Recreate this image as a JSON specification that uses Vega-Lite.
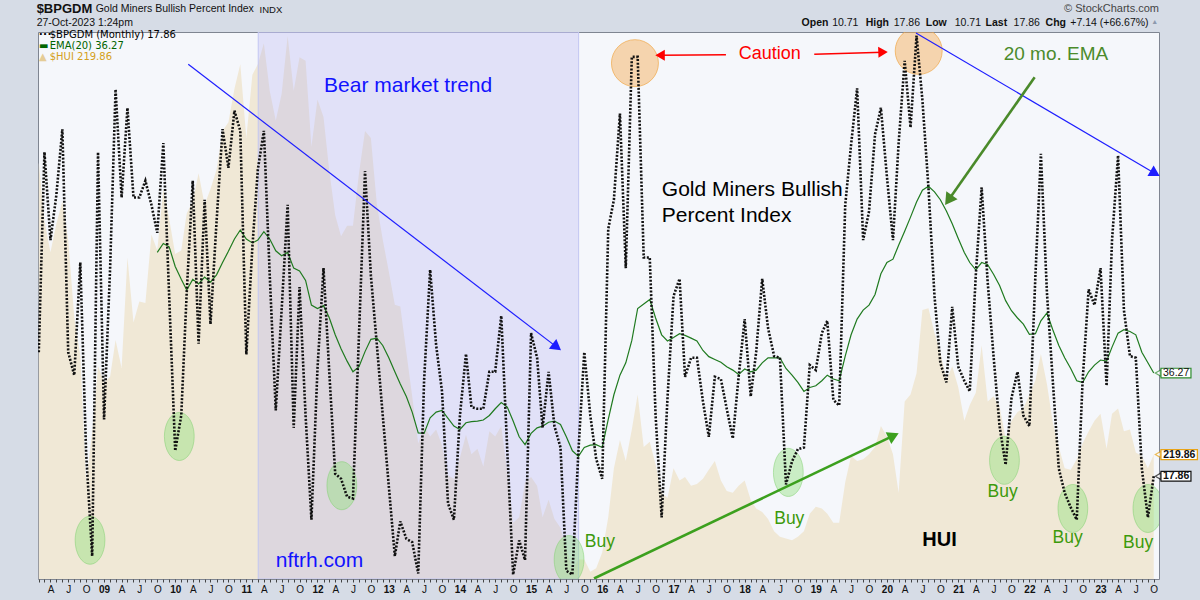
{
"$schema": "https://vega.github.io/schema/vega-lite/v6.json",
"width": 1121, "height": 547,
"autosize": {"type": "none"},
"padding": {"left": 38, "top": 32, "right": 41, "bottom": 21},
"background": "#d6dce6",
"config": {
  "font": "Liberation Sans",
  "view": {"fill": "#f5f7fb", "stroke": "#7f8591", "strokeWidth": 1},
  "axis": {"grid": false, "domain": false, "labelFont": "Liberation Sans", "labelFontSize": 10.5, "labelColor": "#111", "tickColor": "#444", "title": null}
},
"datasets": {
"m": [
{"d":"2008-02-01","b":40.0,"h":483.8},{"d":"2008-03-01","b":75.7,"h":431.4},{"d":"2008-04-01","b":60.0,"h":402.8},{"d":"2008-05-01","b":68,"h":428.2},{"d":"2008-06-01","b":79.8,"h":448.8},{"d":"2008-07-01","b":40.0,"h":413.9},{"d":"2008-08-01","b":35.9,"h":344.0},{"d":"2008-09-01","b":56.0,"h":309.1},{"d":"2008-10-01","b":22,"h":195},{"d":"2008-11-01","b":3.6,"h":240},{"d":"2008-12-01","b":75.7,"h":299.6},
{"d":"2009-01-01","b":28.0,"h":285.3},{"d":"2009-02-01","b":55,"h":290.1},{"d":"2009-03-01","b":86.9,"h":323.4},{"d":"2009-04-01","b":67.6,"h":298.0},{"d":"2009-05-01","b":83.6,"h":398.0},{"d":"2009-06-01","b":67.6,"h":339.3},{"d":"2009-07-01","b":67.6,"h":358.3},{"d":"2009-08-01","b":70.6,"h":356.8},{"d":"2009-09-01","b":66.3,"h":418.7},{"d":"2009-10-01","b":61.3,"h":404.4,"e":57.8},{"d":"2009-11-01","b":77.3,"h":459.9,"e":59.4},{"d":"2009-12-01","b":50,"h":432.9,"e":58.8},
{"d":"2010-01-01","b":22.4,"h":401.2,"e":55.3},{"d":"2010-02-01","b":28.7,"h":404.4,"e":53.0},{"d":"2010-03-01","b":50.6,"h":437.7,"e":51.1},{"d":"2010-04-01","b":70.6,"h":448.8,"e":53.0},{"d":"2010-05-01","b":41.5,"h":474.2,"e":52.2},{"d":"2010-06-01","b":67.2,"h":445.7,"e":53.4},{"d":"2010-07-01","b":45.0,"h":459.9,"e":52.5},{"d":"2010-08-01","b":63.2,"h":477.4,"e":53.8},{"d":"2010-09-01","b":79.8,"h":512.3,"e":56.0},{"d":"2010-10-01","b":72.9,"h":520.3,"e":58.0},{"d":"2010-11-01","b":83.1,"h":550.4,"e":60.2},{"d":"2010-12-01","b":79.5,"h":572.7,"e":61.8},
{"d":"2011-01-01","b":39.6,"h":506.0,"e":60.2},{"d":"2011-02-01","b":58.8,"h":563.1,"e":59.5},{"d":"2011-03-01","b":72.6,"h":572.7,"e":60.0},{"d":"2011-04-01","b":79.5,"h":591.7,"e":61.5},{"d":"2011-05-01","b":53.8,"h":548.8,"e":60.2},{"d":"2011-06-01","b":29.6,"h":521.9,"e":58.1},{"d":"2011-07-01","b":47.5,"h":545.7,"e":57.2},{"d":"2011-08-01","b":66.3,"h":598.1,"e":57.8},{"d":"2011-09-01","b":26.5,"h":548.8,"e":55.0},{"d":"2011-10-01","b":51.6,"h":579.0,"e":54.5},{"d":"2011-11-01","b":28.7,"h":575.8,"e":52.8},{"d":"2011-12-01","b":10.1,"h":498.0,"e":48.4},
{"d":"2012-01-01","b":37,"h":540.9,"e":47.8},{"d":"2012-02-01","b":55.0,"h":525,"e":48.3},{"d":"2012-03-01","b":36.8,"h":477.4,"e":46.2},{"d":"2012-04-01","b":18.3,"h":436.1,"e":43.1},{"d":"2012-05-01","b":17.4,"h":417.1,"e":40.6},{"d":"2012-06-01","b":14.2,"h":426.6,"e":38.4},{"d":"2012-07-01","b":13.9,"h":426.6,"e":36.5},{"d":"2012-08-01","b":43.1,"h":474.2,"e":37.4},{"d":"2012-09-01","b":72.3,"h":512.3,"e":40.1},{"d":"2012-10-01","b":53.7,"h":506.0,"e":42.3},{"d":"2012-11-01","b":41.2,"h":445.7,"e":42.5},{"d":"2012-12-01","b":28.7,"h":413.9,"e":41.2},
{"d":"2013-01-01","b":16.1,"h":385.3,"e":39.0},{"d":"2013-02-01","b":3.6,"h":355.2,"e":36.5},{"d":"2013-03-01","b":9.8,"h":353.6,"e":34.3},{"d":"2013-04-01","b":6.7,"h":312.3,"e":32.1},{"d":"2013-05-01","b":6.1,"h":272.6,"e":29.3},{"d":"2013-06-01","b":0.5,"h":229.8,"e":25.6},{"d":"2013-07-01","b":34.9,"h":245.6,"e":25.5},{"d":"2013-08-01","b":54.7,"h":236.1,"e":28.3},{"d":"2013-09-01","b":41.2,"h":242.4,"e":29.3},{"d":"2013-10-01","b":33.0,"h":228.2,"e":29.6},{"d":"2013-11-01","b":13.0,"h":201.2,"e":28.2},{"d":"2013-12-01","b":10.1,"h":198.0,"e":26.8},
{"d":"2014-01-01","b":28.7,"h":217.1,"e":26.2},{"d":"2014-02-01","b":39.7,"h":237.7,"e":27.4},{"d":"2014-03-01","b":30.2,"h":220.2,"e":27.6},{"d":"2014-04-01","b":29.9,"h":225.0,"e":27.7},{"d":"2014-05-01","b":29.9,"h":209.1,"e":27.9},{"d":"2014-06-01","b":36.5,"h":240.9,"e":28.7},{"d":"2014-07-01","b":36.5,"h":236.1,"e":29.9},{"d":"2014-08-01","b":46.5,"h":245.6,"e":31.0},{"d":"2014-09-01","b":22.4,"h":204.4,"e":30.2},{"d":"2014-10-01","b":0.3,"h":158.3,"e":27.7},{"d":"2014-11-01","b":6.4,"h":163.1,"e":24.9},{"d":"2014-12-01","b":2.9,"h":194.8,"e":23.5},
{"d":"2015-01-01","b":43.4,"h":199.6,"e":25.5},{"d":"2015-02-01","b":39.0,"h":191.7,"e":26.5},{"d":"2015-03-01","b":26.5,"h":163.1,"e":26.8},{"d":"2015-04-01","b":36.5,"h":179.0,"e":27.5},{"d":"2015-05-01","b":26.8,"h":161.5,"e":27.7},{"d":"2015-06-01","b":23.0,"h":153.6,"e":27.1},{"d":"2015-07-01","b":1.0,"h":134.5,"e":24.9},{"d":"2015-08-01","b":0.3,"h":115.5,"e":22.4},{"d":"2015-09-01","b":22.4,"h":125.0,"e":21.4},{"d":"2015-10-01","b":40.0,"h":125.0,"e":23.0},{"d":"2015-11-01","b":28.7,"h":113.9,"e":23.4},{"d":"2015-12-01","b":21,"h":117.1,"e":23.5},
{"d":"2016-01-01","b":17.4,"h":131.3,"e":23.0},{"d":"2016-02-01","b":62,"h":163.1,"e":28.0},{"d":"2016-03-01","b":67.2,"h":207.5,"e":32.4},{"d":"2016-04-01","b":82.6,"h":233.0,"e":35.9},{"d":"2016-05-01","b":55.0,"h":213.9,"e":38.1},{"d":"2016-06-01","b":92.7,"h":242.4,"e":42.1},{"d":"2016-07-01","b":92.7,"h":274.2,"e":47.8},{"d":"2016-08-01","b":56.9,"h":226.6,"e":48.6},{"d":"2016-09-01","b":56.9,"h":231.3,"e":49.4},{"d":"2016-10-01","b":28.7,"h":210.7,"e":46.1},{"d":"2016-11-01","b":10.5,"h":185.3,"e":43.1},{"d":"2016-12-01","b":31.8,"h":180.5,"e":42.0},
{"d":"2017-01-01","b":50.0,"h":207.5,"e":42.6},{"d":"2017-02-01","b":53.1,"h":196.4,"e":43.3},{"d":"2017-03-01","b":35.6,"h":199.6,"e":43.0},{"d":"2017-04-01","b":39.0,"h":191.7,"e":42.5},{"d":"2017-05-01","b":39.0,"h":193.3,"e":42.0},{"d":"2017-06-01","b":31.2,"h":198.0,"e":40.3},{"d":"2017-07-01","b":24.9,"h":206.0,"e":39.2},{"d":"2017-08-01","b":35.6,"h":213.9,"e":38.7},{"d":"2017-09-01","b":35.2,"h":196.4,"e":38.2},{"d":"2017-10-01","b":29.9,"h":186.9,"e":37.4},{"d":"2017-11-01","b":24.6,"h":185.3,"e":36.8},{"d":"2017-12-01","b":35.6,"h":191.7,"e":36.0},
{"d":"2018-01-01","b":45.9,"h":196.4,"e":37.0},{"d":"2018-02-01","b":32.1,"h":179.0,"e":36.5},{"d":"2018-03-01","b":40.0,"h":171.0,"e":36.8},{"d":"2018-04-01","b":53.1,"h":167.8,"e":38.1},{"d":"2018-05-01","b":44.3,"h":161.5,"e":39.0},{"d":"2018-06-01","b":39.3,"h":150.4,"e":39.0},{"d":"2018-07-01","b":39.0,"h":145.6,"e":39.0},{"d":"2018-08-01","b":16.4,"h":144.0,"e":37.1},{"d":"2018-09-01","b":20.5,"h":142.4,"e":35.9},{"d":"2018-10-01","b":22.7,"h":145.6,"e":34.6},{"d":"2018-11-01","b":23.0,"h":150.4,"e":33.0},{"d":"2018-12-01","b":37.7,"h":166.3,"e":33.7},
{"d":"2019-01-01","b":36.8,"h":172.6,"e":34.0},{"d":"2019-02-01","b":43.4,"h":171.0,"e":34.9},{"d":"2019-03-01","b":45.6,"h":166.3,"e":35.9},{"d":"2019-04-01","b":31.5,"h":158.3,"e":35.2},{"d":"2019-05-01","b":30.5,"h":158.3,"e":34.9},{"d":"2019-06-01","b":66.3,"h":194.8,"e":39.3},{"d":"2019-07-01","b":77.0,"h":218.6,"e":43.1},{"d":"2019-08-01","b":87.1,"h":213.9,"e":45.9},{"d":"2019-09-01","b":60.0,"h":215.5,"e":47.5},{"d":"2019-10-01","b":65.1,"h":220.2,"e":48.4},{"d":"2019-11-01","b":78.9,"h":226.6,"e":50.3},{"d":"2019-12-01","b":83.6,"h":245.6,"e":54.0},
{"d":"2020-01-01","b":71.3,"h":236.1,"e":56.0},{"d":"2020-02-01","b":60.0,"h":220.2,"e":56.6},{"d":"2020-03-01","b":77.3,"h":185.3,"e":59.1},{"d":"2020-04-01","b":92.0,"h":267.9,"e":61.6},{"d":"2020-05-01","b":80.1,"h":274.2,"e":64.1},{"d":"2020-06-01","b":96.5,"h":293.3,"e":66.8},{"d":"2020-07-01","b":85,"h":350.4,"e":68.9},{"d":"2020-08-01","b":69.4,"h":352.0,"e":69.6},{"d":"2020-09-01","b":50.0,"h":329.8,"e":68.6},{"d":"2020-10-01","b":38.1,"h":312.3,"e":67.2},{"d":"2020-11-01","b":34.6,"h":286.9,"e":65.2},{"d":"2020-12-01","b":48.1,"h":299.6,"e":62.9},
{"d":"2021-01-01","b":37.4,"h":280.6,"e":60.3},{"d":"2021-02-01","b":34.9,"h":250.4,"e":57.8},{"d":"2021-03-01","b":33.0,"h":264.7,"e":56.0},{"d":"2021-04-01","b":53.8,"h":275.8,"e":54.7},{"d":"2021-05-01","b":69.4,"h":318.6,"e":56.0},{"d":"2021-06-01","b":52.5,"h":267.9,"e":55.6},{"d":"2021-07-01","b":39.3,"h":272.6,"e":53.9},{"d":"2021-08-01","b":26.8,"h":263.1,"e":51.9},{"d":"2021-09-01","b":19.9,"h":234.5,"e":49.2},{"d":"2021-10-01","b":31.8,"h":250.4,"e":47.4},{"d":"2021-11-01","b":36.5,"h":258.3,"e":46.1},{"d":"2021-12-01","b":28.7,"h":261.5,"e":45.0},
{"d":"2022-01-01","b":26.8,"h":274.2,"e":43.2},{"d":"2022-02-01","b":53.8,"h":286.9,"e":43.3},{"d":"2022-03-01","b":75.4,"h":310.7,"e":45.6},{"d":"2022-04-01","b":50.6,"h":283.7,"e":47.0},{"d":"2022-05-01","b":34.9,"h":248.8,"e":44.0},{"d":"2022-06-01","b":19.2,"h":226.6,"e":41.2},{"d":"2022-07-01","b":14.9,"h":207.5,"e":39.0},{"d":"2022-08-01","b":12.3,"h":206.0,"e":37.1},{"d":"2022-09-01","b":10.1,"h":215.5,"e":34.9},{"d":"2022-10-01","b":34.9,"h":229.8,"e":34.6},{"d":"2022-11-01","b":51.2,"h":240.9,"e":36.5},{"d":"2022-12-01","b":48.4,"h":250.4,"e":37.7},
{"d":"2023-01-01","b":55.0,"h":256.7,"e":38.6},{"d":"2023-02-01","b":34.0,"h":225.0,"e":38.4},{"d":"2023-03-01","b":60.0,"h":256.7,"e":40.9},{"d":"2023-04-01","b":75.1,"h":261.5,"e":43.4},{"d":"2023-05-01","b":47.5,"h":240.9,"e":44.0},{"d":"2023-06-01","b":39.3,"h":242.4,"e":43.7},{"d":"2023-07-01","b":39.0,"h":221.8,"e":43.1},{"d":"2023-08-01","b":19.2,"h":218.6,"e":40.0},{"d":"2023-09-01","b":10.5,"h":207.5,"e":38.1},{"d":"2023-10-01","b":17.86,"h":219.86,"e":36.27}
]
},
"encoding": {
  "x": {"field": "d", "type": "temporal",
    "scale": {"type": "utc", "nice": false, "domain": [{"year": 2008, "month": 1, "date": 28, "utc": true}, {"year": 2023, "month": 10, "date": 28, "utc": true}]},
    "axis": {"orient": "bottom", "tickCount": {"interval": "month", "step": 1}, "tickSize": 3, "labelPadding": 2, "labelOverlap": false, "labelFlush": false, "labelBound": false, "labelFontSize": 10,
      "labelExpr": "utcmonth(datum.value)==0 ? utcFormat(datum.value,'%y') : utcmonth(datum.value)==3 ? 'A' : utcmonth(datum.value)==6 ? 'J' : utcmonth(datum.value)==9 ? 'O' : ''",
      "labelFontWeight": {"condition": {"test": "utcmonth(datum.value)==0", "value": "bold"}, "value": "normal"}}}
},
"layer": [
  {"data": {"name": "m"},
   "layer": [
    {"mark": {"type": "area", "color": "#f0e8d6", "clip": true},
     "encoding": {"y": {"field": "h", "type": "quantitative", "scale": {"domain": [107.34, 601.81], "nice": false, "zero": false},
       "axis": {"orient": "left", "values": [120,140,160,180,200,220,240,260,280,300,320,340,360,380,400,420,440,460,480,500,520,540,560,580,600], "tickSize": 4, "labelPadding": 1}}}},
    {"data": {"values": [{"d": "2023-10-24", "v": 219.86}]},
     "mark": {"type": "point", "shape": "triangle-left", "size": 45, "filled": true, "fill": "white", "stroke": "#e8a317", "strokeWidth": 1.2, "clip": false},
     "encoding": {"y": {"field": "v", "type": "quantitative", "scale": {"domain": [107.34, 601.81], "nice": false, "zero": false}, "axis": null}}},
    {"data": {"values": [{"d": "2023-11-07", "d2": "2024-05-12", "v": 215.34, "v2": 224.38}]},
     "mark": {"type": "rect", "fill": "white", "stroke": "#e8a317", "strokeWidth": 1.3, "clip": false},
     "encoding": {"x2": {"field": "d2"}, "y": {"field": "v", "type": "quantitative", "scale": {"domain": [107.34, 601.81], "nice": false, "zero": false}, "axis": null}, "y2": {"field": "v2"}}},
    {"data": {"values": [{"d": "2024-02-09", "v": 219.86, "t": "219.86"}]},
     "mark": {"type": "text", "fontSize": 10.5, "fontWeight": "bold", "color": "#111", "align": "center", "baseline": "middle", "clip": false},
     "encoding": {"y": {"field": "v", "type": "quantitative", "scale": {"domain": [107.34, 601.81], "nice": false, "zero": false}, "axis": null}, "text": {"field": "t"}}}
   ]},
  {"layer": [
    {"data": {"values": [{"d": "2011-03-03", "d2": "2015-09-02"}]},
     "mark": {"type": "rect", "fill": "#b2aef1", "fillOpacity": 0.3, "stroke": "#c3c6f2", "strokeWidth": 1, "clip": true},
     "encoding": {"x2": {"field": "d2"}}},
    {"data": {"values": [{"d": "2008-10-21", "v": 6.43}, {"d": "2010-01-22", "v": 24.95}, {"d": "2012-05-05", "v": 16.17}, {"d": "2015-07-15", "v": 2.98}, {"d": "2018-08-13", "v": 18.54}, {"d": "2021-08-26", "v": 20.7}, {"d": "2022-08-12", "v": 12.1}, {"d": "2023-09-01", "v": 12.1}]},
     "mark": {"type": "point", "shape": "M0,-1A0.62,1 0 1,1 0,1A0.62,1 0 1,1 0,-1Z", "size": 2304, "filled": true, "fill": "#8ee07a", "fillOpacity": 0.42, "stroke": "#7fd06f", "strokeOpacity": 0.5, "strokeWidth": 1, "clip": true},
     "encoding": {"y": {"field": "v", "type": "quantitative", "scale": {"domain": [-0.48, 97.14], "nice": false, "zero": false}, "axis": null}}},
    {"data": {"values": [{"d": "2016-06-17", "v": 91.58}, {"d": "2020-06-12", "v": 93.77}]},
     "mark": {"type": "point", "shape": "circle", "size": 2206, "filled": true, "fill": "#f7a850", "fillOpacity": 0.45, "stroke": "#f0a848", "strokeOpacity": 0.7, "strokeWidth": 1, "clip": true},
     "encoding": {"y": {"field": "v", "type": "quantitative", "scale": {"domain": [-0.48, 97.14], "nice": false, "zero": false}, "axis": null}}},
    {"data": {"name": "m"},
     "mark": {"type": "line", "color": "#1f7a1f", "strokeWidth": 1.2, "clip": true},
     "encoding": {"y": {"field": "e", "type": "quantitative", "scale": {"domain": [-0.48, 97.14], "nice": false, "zero": false}, "axis": null}}},
    {"data": {"name": "m"},
     "mark": {"type": "line", "color": "#111111", "strokeWidth": 2.6, "strokeDash": [2, 1.6], "clip": true},
     "encoding": {"y": {"field": "b", "type": "quantitative", "scale": {"domain": [-0.48, 97.14], "nice": false, "zero": false},
       "axis": {"orient": "right", "values": [0,2.5,5,7.5,10,12.5,15,17.5,20,22.5,25,27.5,30,32.5,35,37.5,40,42.5,45,47.5,50,52.5,55,57.5,60,62.5,65,67.5,70,72.5,75,77.5,80,82.5,85,87.5,90,92.5,95], "format": ".1f", "tickSize": 4, "labelPadding": 1}}}},
    {"data": {"values": [{"d": "2010-03-09", "v": 91.38, "d2": "2015-05-13", "v2": 40.9}]},
     "layer": [
      {"mark": {"type": "rule", "color": "#1e1eff", "strokeWidth": 1.2, "clip": true},
       "encoding": {"x2": {"field": "d2"}, "y": {"field": "v", "type": "quantitative", "scale": {"domain": [-0.48, 97.14], "nice": false, "zero": false}, "axis": null}, "y2": {"field": "v2"}}},
      {"mark": {"type": "point", "shape": "triangle-right", "angle": 37.5, "size": 150, "filled": true, "color": "#1e1eff", "opacity": 1},
       "encoding": {"x": {"field": "d2", "type": "temporal"}, "y": {"field": "v2", "type": "quantitative", "scale": {"domain": [-0.48, 97.14], "nice": false, "zero": false}, "axis": null}}}
     ]},
    {"data": {"values": [{"d": "2020-05-29", "v": 96.97, "d2": "2023-10-08", "v2": 71.9}]},
     "layer": [
      {"mark": {"type": "rule", "color": "#1e1eff", "strokeWidth": 1.2, "clip": true},
       "encoding": {"x2": {"field": "d2"}, "y": {"field": "v", "type": "quantitative", "scale": {"domain": [-0.48, 97.14], "nice": false, "zero": false}, "axis": null}, "y2": {"field": "v2"}}},
      {"mark": {"type": "point", "shape": "triangle-right", "angle": 30.4, "size": 150, "filled": true, "color": "#1e1eff", "opacity": 1},
       "encoding": {"x": {"field": "d2", "type": "temporal"}, "y": {"field": "v2", "type": "quantitative", "scale": {"domain": [-0.48, 97.14], "nice": false, "zero": false}, "axis": null}}}
     ]},
    {"data": {"values": [{"d": "2017-09-27", "v": 93.1, "d2": "2016-10-24", "v2": 93.0}]},
     "layer": [
      {"mark": {"type": "rule", "color": "#ff0000", "strokeWidth": 1.5, "clip": true},
       "encoding": {"x2": {"field": "d2"}, "y": {"field": "v", "type": "quantitative", "scale": {"domain": [-0.48, 97.14], "nice": false, "zero": false}, "axis": null}, "y2": {"field": "v2"}}},
      {"mark": {"type": "point", "shape": "triangle-left", "size": 120, "filled": true, "color": "#ff0000", "opacity": 1},
       "encoding": {"x": {"field": "d2", "type": "temporal"}, "y": {"field": "v2", "type": "quantitative", "scale": {"domain": [-0.48, 97.14], "nice": false, "zero": false}, "axis": null}}}
     ]},
    {"data": {"values": [{"d": "2018-12-24", "v": 93.15, "d2": "2019-12-12", "v2": 93.54}]},
     "layer": [
      {"mark": {"type": "rule", "color": "#ff0000", "strokeWidth": 1.5, "clip": true},
       "encoding": {"x2": {"field": "d2"}, "y": {"field": "v", "type": "quantitative", "scale": {"domain": [-0.48, 97.14], "nice": false, "zero": false}, "axis": null}, "y2": {"field": "v2"}}},
      {"mark": {"type": "point", "shape": "triangle-right", "angle": -2, "size": 120, "filled": true, "color": "#ff0000", "opacity": 1},
       "encoding": {"x": {"field": "d2", "type": "temporal"}, "y": {"field": "v2", "type": "quantitative", "scale": {"domain": [-0.48, 97.14], "nice": false, "zero": false}, "axis": null}}}
     ]},
    {"data": {"values": [{"d": "2015-11-20", "v": -0.39, "d2": "2020-02-04", "v2": 25.1}]},
     "layer": [
      {"mark": {"type": "rule", "color": "#3ca01e", "strokeWidth": 2.6, "clip": true},
       "encoding": {"x2": {"field": "d2"}, "y": {"field": "v", "type": "quantitative", "scale": {"domain": [-0.48, 97.14], "nice": false, "zero": false}, "axis": null}, "y2": {"field": "v2"}}},
      {"mark": {"type": "point", "shape": "triangle-right", "angle": -25.5, "size": 170, "filled": true, "color": "#3ca01e", "opacity": 1},
       "encoding": {"x": {"field": "d2", "type": "temporal"}, "y": {"field": "v2", "type": "quantitative", "scale": {"domain": [-0.48, 97.14], "nice": false, "zero": false}, "axis": null}}}
     ]},
    {"data": {"values": [{"d": "2022-01-28", "v": 89.06, "d2": "2020-11-12", "v2": 67.14}]},
     "layer": [
      {"mark": {"type": "rule", "color": "#4a8a2a", "strokeWidth": 2.6, "clip": true},
       "encoding": {"x2": {"field": "d2"}, "y": {"field": "v", "type": "quantitative", "scale": {"domain": [-0.48, 97.14], "nice": false, "zero": false}, "axis": null}, "y2": {"field": "v2"}}},
      {"mark": {"type": "point", "shape": "triangle-right", "angle": 125, "size": 190, "filled": true, "color": "#4a8a2a", "opacity": 1},
       "encoding": {"x": {"field": "d2", "type": "temporal"}, "y": {"field": "v2", "type": "quantitative", "scale": {"domain": [-0.48, 97.14], "nice": false, "zero": false}, "axis": null}}}
     ]},
    {"data": {"values": [{"d": "2012-02-04", "v": 87.5, "t": "Bear market trend"}, {"d": "2011-06-01", "v": 2.68, "t": "nftrh.com"}]},
     "mark": {"type": "text", "align": "left", "baseline": "middle", "fontSize": 21, "color": "#1212ff", "clip": false},
     "encoding": {"y": {"field": "v", "type": "quantitative", "scale": {"domain": [-0.48, 97.14], "nice": false, "zero": false}, "axis": null}, "text": {"field": "t"}}},
    {"data": {"values": [{"d": "2018-05-10", "v": 93.15, "t": "Caution"}]},
     "mark": {"type": "text", "align": "center", "baseline": "middle", "fontSize": 18, "color": "#ff0000", "clip": false},
     "encoding": {"y": {"field": "v", "type": "quantitative", "scale": {"domain": [-0.48, 97.14], "nice": false, "zero": false}, "axis": null}, "text": {"field": "t"}}},
    {"data": {"values": [{"d": "2022-05-17", "v": 93.15, "t": "20 mo. EMA"}]},
     "mark": {"type": "text", "align": "center", "baseline": "middle", "fontSize": 19, "color": "#4b8b2b", "clip": false},
     "encoding": {"y": {"field": "v", "type": "quantitative", "scale": {"domain": [-0.48, 97.14], "nice": false, "zero": false}, "axis": null}, "text": {"field": "t"}}},
    {"data": {"values": [{"d": "2016-11-02", "v": 68.95, "t": "Gold Miners Bullish"}, {"d": "2016-11-02", "v": 64.25, "t": "Percent Index"}]},
     "mark": {"type": "text", "align": "left", "baseline": "middle", "fontSize": 21, "color": "#000000", "clip": false},
     "encoding": {"y": {"field": "v", "type": "quantitative", "scale": {"domain": [-0.48, 97.14], "nice": false, "zero": false}, "axis": null}, "text": {"field": "t"}}},
    {"data": {"values": [{"d": "2020-09-27", "v": 6.43, "t": "HUI"}]},
     "mark": {"type": "text", "align": "center", "baseline": "middle", "fontSize": 20, "fontWeight": "bold", "color": "#000000", "clip": false},
     "encoding": {"y": {"field": "v", "type": "quantitative", "scale": {"domain": [-0.48, 97.14], "nice": false, "zero": false}, "axis": null}, "text": {"field": "t"}}},
    {"data": {"values": [{"d": "2015-12-20", "v": 6.12, "t": "Buy"}, {"d": "2018-08-18", "v": 10.2, "t": "Buy"}, {"d": "2021-08-17", "v": 15.05, "t": "Buy"}, {"d": "2022-07-16", "v": 6.75, "t": "Buy"}, {"d": "2023-07-13", "v": 6.0, "t": "Buy"}]},
     "mark": {"type": "text", "align": "center", "baseline": "middle", "fontSize": 17.5, "color": "#3c9a0c", "clip": false},
     "encoding": {"y": {"field": "v", "type": "quantitative", "scale": {"domain": [-0.48, 97.14], "nice": false, "zero": false}, "axis": null}, "text": {"field": "t"}}},
    {"data": {"values": [{"d": "2008-01-21", "v": 101.16, "t": "$BPGDM"}]},
     "mark": {"type": "text", "align": "left", "baseline": "middle", "fontSize": 13, "fontWeight": "bold", "color": "#111", "clip": false},
     "encoding": {"y": {"field": "v", "type": "quantitative", "scale": {"domain": [-0.48, 97.14], "nice": false, "zero": false}, "axis": null}, "text": {"field": "t"}}},
    {"data": {"values": [{"d": "2008-11-19", "v": 101.16, "t": "Gold Miners Bullish Percent Index"}, {"d": "2008-01-21", "v": 98.8, "t": "27-Oct-2023 1:24pm"}]},
     "mark": {"type": "text", "align": "left", "baseline": "middle", "fontSize": 10.5, "color": "#111", "clip": false},
     "encoding": {"y": {"field": "v", "type": "quantitative", "scale": {"domain": [-0.48, 97.14], "nice": false, "zero": false}, "axis": null}, "text": {"field": "t"}}},
    {"data": {"values": [{"d": "2011-03-10", "v": 101.0, "t": "INDX"}]},
     "mark": {"type": "text", "align": "left", "baseline": "middle", "fontSize": 9.5, "color": "#111", "clip": false},
     "encoding": {"y": {"field": "v", "type": "quantitative", "scale": {"domain": [-0.48, 97.14], "nice": false, "zero": false}, "axis": null}, "text": {"field": "t"}}},
    {"data": {"values": [{"d": "2018-10-20", "v": 98.8, "t": "Open"}, {"d": "2019-09-14", "v": 98.8, "t": "High"}, {"d": "2020-07-18", "v": 98.8, "t": "Low"}, {"d": "2021-05-21", "v": 98.8, "t": "Last"}, {"d": "2022-03-25", "v": 98.8, "t": "Chg"}]},
     "mark": {"type": "text", "align": "left", "baseline": "middle", "fontSize": 10.5, "fontWeight": "bold", "color": "#111", "clip": false},
     "encoding": {"y": {"field": "v", "type": "quantitative", "scale": {"domain": [-0.48, 97.14], "nice": false, "zero": false}, "axis": null}, "text": {"field": "t"}}},
    {"data": {"values": [{"d": "2019-03-26", "v": 98.8, "t": "10.71"}, {"d": "2020-02-05", "v": 98.8, "t": "17.86"}, {"d": "2020-12-14", "v": 98.8, "t": "10.71"}, {"d": "2021-10-12", "v": 98.8, "t": "17.86"}, {"d": "2022-07-30", "v": 98.8, "t": "+7.14 (+66.67%)"}]},
     "mark": {"type": "text", "align": "left", "baseline": "middle", "fontSize": 10.5, "color": "#111", "clip": false},
     "encoding": {"y": {"field": "v", "type": "quantitative", "scale": {"domain": [-0.48, 97.14], "nice": false, "zero": false}, "axis": null}, "text": {"field": "t"}}},
    {"data": {"values": [{"d": "2023-10-06", "v": 98.9, "t": "▲"}]},
     "mark": {"type": "text", "align": "center", "baseline": "middle", "fontSize": 7, "color": "#8d99ad", "clip": false},
     "encoding": {"y": {"field": "v", "type": "quantitative", "scale": {"domain": [-0.48, 97.14], "nice": false, "zero": false}, "axis": null}, "text": {"field": "t"}}},
    {"data": {"values": [{"d": "2023-10-28", "v": 101.2, "t": "© StockCharts.com"}]},
     "mark": {"type": "text", "align": "right", "baseline": "middle", "fontSize": 11, "color": "#444", "clip": false},
     "encoding": {"y": {"field": "v", "type": "quantitative", "scale": {"domain": [-0.48, 97.14], "nice": false, "zero": false}, "axis": null}, "text": {"field": "t"}}},
    {"data": {"values": [{"d": "2008-02-02", "v": 96.7, "t": "···"}]},
     "mark": {"type": "text", "align": "left", "baseline": "middle", "fontSize": 13, "fontWeight": "bold", "color": "#000", "clip": false},
     "encoding": {"y": {"field": "v", "type": "quantitative", "scale": {"domain": [-0.48, 97.14], "nice": false, "zero": false}, "axis": null}, "text": {"field": "t"}}},
    {"data": {"values": [{"d": "2008-03-28", "v": 96.6, "t": "$BPGDM (Monthly) 17.86"}]},
     "mark": {"type": "text", "align": "left", "baseline": "middle", "font": "DejaVu Sans", "fontSize": 10, "color": "#000", "clip": false},
     "encoding": {"y": {"field": "v", "type": "quantitative", "scale": {"domain": [-0.48, 97.14], "nice": false, "zero": false}, "axis": null}, "text": {"field": "t"}}},
    {"data": {"values": [{"d": "2008-02-02", "v": 94.7, "t": "▬"}, {"d": "2008-03-28", "v": 94.7, "t": "EMA(20) 36.27"}]},
     "mark": {"type": "text", "align": "left", "baseline": "middle", "font": "DejaVu Sans", "fontSize": 10, "color": "#006400", "clip": false},
     "encoding": {"y": {"field": "v", "type": "quantitative", "scale": {"domain": [-0.48, 97.14], "nice": false, "zero": false}, "axis": null}, "text": {"field": "t"}}},
    {"data": {"values": [{"d": "2008-02-02", "v": 92.74, "t": "▲"}]},
     "mark": {"type": "text", "align": "left", "baseline": "middle", "font": "DejaVu Sans", "fontSize": 10, "color": "#e5cc96", "clip": false},
     "encoding": {"y": {"field": "v", "type": "quantitative", "scale": {"domain": [-0.48, 97.14], "nice": false, "zero": false}, "axis": null}, "text": {"field": "t"}}},
    {"data": {"values": [{"d": "2008-03-28", "v": 92.74, "t": "$HUI 219.86"}]},
     "mark": {"type": "text", "align": "left", "baseline": "middle", "font": "DejaVu Sans", "fontSize": 10, "color": "#d4a020", "clip": false},
     "encoding": {"y": {"field": "v", "type": "quantitative", "scale": {"domain": [-0.48, 97.14], "nice": false, "zero": false}, "axis": null}, "text": {"field": "t"}}},
    {"data": {"values": [{"d": "2023-10-24", "v": 36.27}]},
     "mark": {"type": "point", "shape": "triangle-left", "size": 45, "filled": true, "fill": "white", "stroke": "#2e8b2e", "strokeWidth": 1.2, "clip": false},
     "encoding": {"y": {"field": "v", "type": "quantitative", "scale": {"domain": [-0.48, 97.14], "nice": false, "zero": false}, "axis": null}}},
    {"data": {"values": [{"d": "2023-10-24", "v": 17.86}]},
     "mark": {"type": "point", "shape": "triangle-left", "size": 45, "filled": true, "fill": "white", "stroke": "#111", "strokeWidth": 1.2, "clip": false},
     "encoding": {"y": {"field": "v", "type": "quantitative", "scale": {"domain": [-0.48, 97.14], "nice": false, "zero": false}, "axis": null}}},
    {"data": {"values": [{"d": "2023-11-07", "d2": "2024-04-09", "v": 35.41, "v2": 37.13}]},
     "mark": {"type": "rect", "fill": "white", "stroke": "#2e8b2e", "strokeWidth": 1.2, "clip": false},
     "encoding": {"x2": {"field": "d2"}, "y": {"field": "v", "type": "quantitative", "scale": {"domain": [-0.48, 97.14], "nice": false, "zero": false}, "axis": null}, "y2": {"field": "v2"}}},
    {"data": {"values": [{"d": "2023-11-07", "d2": "2024-04-09", "v": 17.0, "v2": 18.72}]},
     "mark": {"type": "rect", "fill": "white", "stroke": "#111", "strokeWidth": 1.2, "clip": false},
     "encoding": {"x2": {"field": "d2"}, "y": {"field": "v", "type": "quantitative", "scale": {"domain": [-0.48, 97.14], "nice": false, "zero": false}, "axis": null}, "y2": {"field": "v2"}}},
    {"data": {"values": [{"d": "2024-01-24", "v": 36.27, "t": "36.27"}]},
     "mark": {"type": "text", "align": "center", "baseline": "middle", "fontSize": 10.5, "color": "#111", "clip": false},
     "encoding": {"y": {"field": "v", "type": "quantitative", "scale": {"domain": [-0.48, 97.14], "nice": false, "zero": false}, "axis": null}, "text": {"field": "t"}}},
    {"data": {"values": [{"d": "2024-01-24", "v": 17.86, "t": "17.86"}]},
     "mark": {"type": "text", "align": "center", "baseline": "middle", "fontSize": 10.5, "fontWeight": "bold", "color": "#111", "clip": false},
     "encoding": {"y": {"field": "v", "type": "quantitative", "scale": {"domain": [-0.48, 97.14], "nice": false, "zero": false}, "axis": null}, "text": {"field": "t"}}}
  ]}
],
"resolve": {"scale": {"y": "independent"}, "axis": {"y": "independent"}}
}
